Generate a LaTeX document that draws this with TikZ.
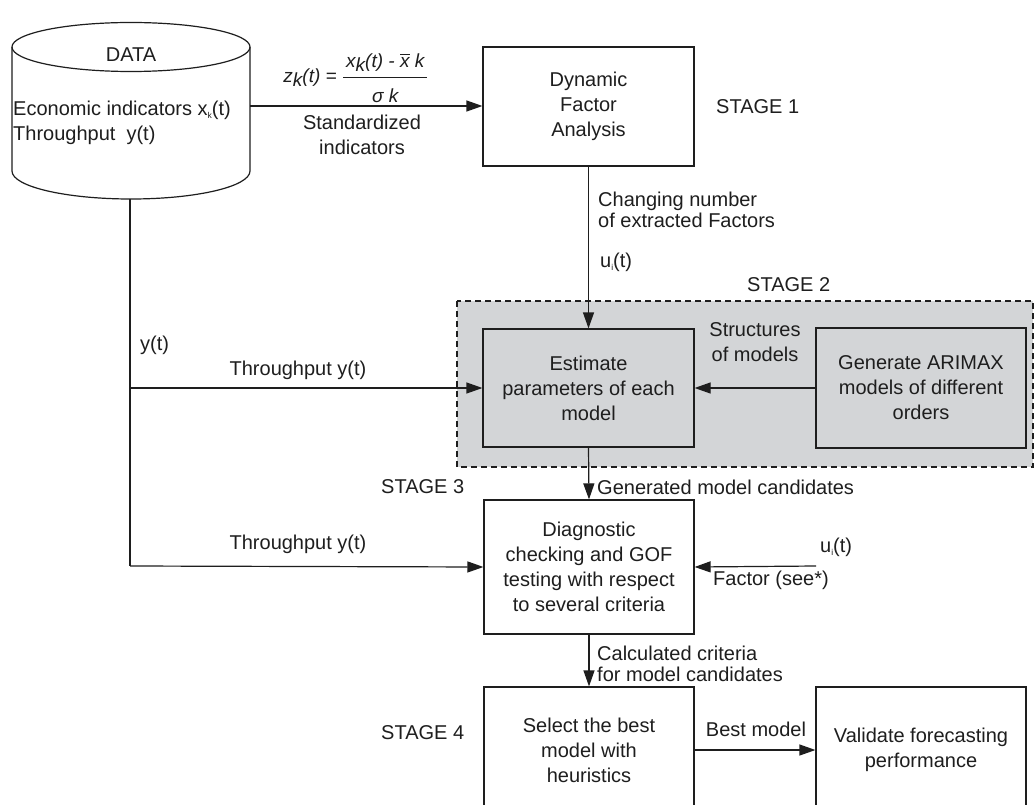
\documentclass[tikz,border=0pt]{standalone}
\usepackage{amsmath}
\usepackage{fontspec}
\setmainfont{Liberation Sans}
\usetikzlibrary{arrows.meta}
\newcommand\lowsub[1]{\raisebox{-0.35ex}{\fontsize{8.5}{8.5}\selectfont #1}}
\newcommand\fsub[1]{\raisebox{-0.45ex}{#1}}
\definecolor{ink}{HTML}{1E1E1E}
\definecolor{stagegray}{HTML}{D3D5D7}
\tikzset{
  every node/.style={font=\fontsize{20}{25}\selectfont, text=ink, inner sep=0pt},
  box/.style={draw=ink, line width=1.2pt, align=center},
  arr/.style={draw=ink, line width=1.2pt, -{Triangle[length=16pt,width=11pt]}},
  ln/.style={draw=ink, line width=1.2pt},
  lbl/.style={align=left, anchor=west},
}
\begin{document}
\begin{tikzpicture}[x=1pt,y=-1pt]
\clip (0,0) rectangle (1035,805);
\fill[white] (0,0) rectangle (1035,805);

% stage 2 region
\draw[fill=stagegray, draw=ink, line width=1.1pt, dash pattern=on 6pt off 4pt] (457,301) rectangle (1033,467);

% data cylinder
\draw[ln] (12,47) -- (12,171) arc[start angle=180, end angle=0, x radius=119, y radius=28] -- (250,47);
\draw[ln] (131,47) ellipse [x radius=119, y radius=24.5];
\node (data) at (131,55) {DATA};
\node[lbl] (econ) at (13,110) {Economic indicators x\lowsub{k}(t)};
\node[lbl] (thr) at (13,135) {Throughput\ \ y(t)};
\coordinate (dataE) at (250,106);
\coordinate (dataS) at (130,199);
\coordinate (br1) at (130,388);
\coordinate (br2) at (130,566);

% boxes
\node[box, minimum width=211pt, minimum height=119pt] (dfa) at (588.5,106.5) {Dynamic\\Factor\\Analysis};
\node[box, fill=stagegray, minimum width=211pt, minimum height=118pt] (est) at (588.5,388) {Estimate\\parameters of each\\model};
\node[box, fill=stagegray, minimum width=210pt, minimum height=120pt] (gen) at (921,388) {Generate ARIMAX\\models of different\\orders};
\node[box, minimum width=210pt, minimum height=134pt] (diag) at (589,567) {Diagnostic\\checking and GOF\\testing with respect\\to several criteria};
\node[box, minimum width=210pt, minimum height=126pt] (sel) at (589,750) {Select the best\\model with\\heuristics};
\node[box, minimum width=210pt, minimum height=126pt] (val) at (921,750) {Validate forecasting\\performance};

% stage labels
\node[anchor=west] (s1) at (716,107) {STAGE 1};
\node[anchor=west] (s2) at (747,285) {STAGE 2};
\node[anchor=west] (s3) at (381,487) {STAGE 3};
\node[anchor=west] (s4) at (381,733) {STAGE 4};

% connectors
\draw[arr] (dataE) -- (dfa.west |- dataE);
\node (formula) at (356,78) {\fontsize{19}{22}\selectfont\itshape
  $\text{z\fsub{k}(t) = }\genfrac{}{}{1.3pt}{0}{\kern3pt\text{x\fsub{k}(t) - }\overline{\text{x}}\text{ k}\kern3pt\rule[-6pt]{0pt}{6pt}}{\rule{0pt}{20pt}\text{σ k}}$};
\node[align=center] (std) at (362,135) {Standardized\\indicators};

\draw[arr] (dfa.south) -- (est.north);
\node[lbl] (chg) at (598,210) {Changing number\\[-4pt]of extracted Factors};
\node[lbl] (ui1) at (600,262) {u\lowsub{i}(t)};

\draw[arr] (gen.west) -- (est.east);
\node[align=center] (struct) at (755,342) {Structures\\of models};

\draw[ln] (dataS) -- (br2);
\node[lbl] (yt) at (140,345) {y(t)};
\draw[arr] (br1) -- (est.west);
\node (thr1) at (298,370) {Throughput y(t)};
\draw[arr] (br2) -- (diag.west);
\node (thr2) at (298,544) {Throughput y(t)};

\draw[arr] (est.south) -- (diag.north);
\node[lbl] (gmc) at (597,487) {Generated model candidates};

\coordinate (uR) at (816,566);
\draw[arr] (uR) -- (diag.east);
\node[lbl] (ui2) at (820,547) {u\lowsub{i}(t)};
\node[lbl] (fac) at (713,580) {Factor (see*)};

\draw[arr] (diag.south) -- (sel.north);
\node[lbl] (calc) at (597,664) {Calculated criteria\\[-4pt]for model candidates};

\draw[arr] (sel.east) -- (val.west);
\node (best) at (756,729) {Best model};
\end{tikzpicture}
\end{document}
